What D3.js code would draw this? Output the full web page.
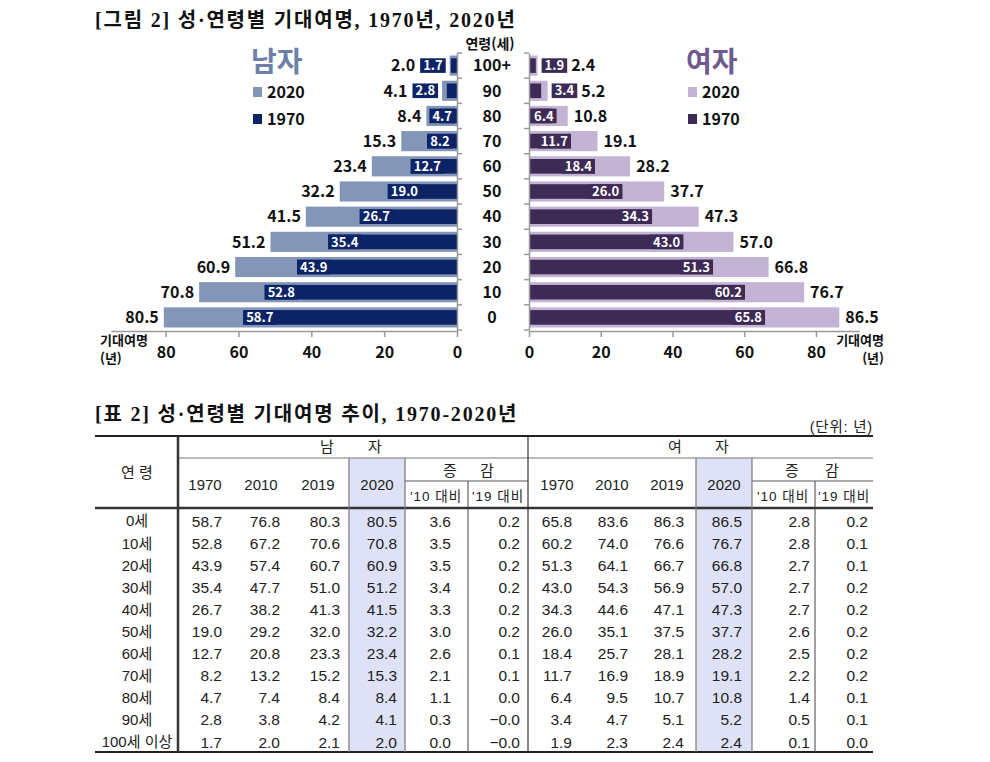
<!DOCTYPE html>
<html lang="ko">
<head>
<meta charset="utf-8">
<script src="https://cdn.jsdelivr.net/npm/d3@7/dist/d3.min.js"></script>
<style>
  html, body { margin: 0; padding: 0; background: #ffffff; }
  svg { display: block; }
  .kfont { font-family: "Noto Sans CJK KR", "Noto Sans", sans-serif; }
  .tfont { font-family: "Liberation Serif", "Noto Sans CJK KR", serif; font-weight: 700; }
  .tab { font-family: "Liberation Sans", "Noto Sans CJK KR", sans-serif; fill: #222; }
</style>
</head>
<body>
<svg id="chart" width="990" height="762"></svg>
<script>
// 성·연령별 기대여명: 위는 막대 그림, 아래는 표
const ages = ["0", "10", "20", "30", "40", "50", "60", "70", "80", "90", "100+"];
const ageRows = ["0세", "10세", "20세", "30세", "40세", "50세", "60세", "70세", "80세", "90세", "100세 이상"];

const men1970 = [58.7, 52.8, 43.9, 35.4, 26.7, 19.0, 12.7, 8.2, 4.7, 2.8, 1.7];
const men2010 = [76.8, 67.2, 57.4, 47.7, 38.2, 29.2, 20.8, 13.2, 7.4, 3.8, 2.0];
const men2019 = [80.3, 70.6, 60.7, 51.0, 41.3, 32.0, 23.3, 15.2, 8.4, 4.2, 2.1];
const men2020 = [80.5, 70.8, 60.9, 51.2, 41.5, 32.2, 23.4, 15.3, 8.4, 4.1, 2.0];
const menVs10 = [3.6, 3.5, 3.5, 3.4, 3.3, 3.0, 2.6, 2.1, 1.1, 0.3, 0.0];
const menVs19 = [0.2, 0.2, 0.2, 0.2, 0.2, 0.2, 0.1, 0.1, 0.0, -0.0, -0.0];

const women1970 = [65.8, 60.2, 51.3, 43.0, 34.3, 26.0, 18.4, 11.7, 6.4, 3.4, 1.9];
const women2010 = [83.6, 74.0, 64.1, 54.3, 44.6, 35.1, 25.7, 16.9, 9.5, 4.7, 2.3];
const women2019 = [86.3, 76.6, 66.7, 56.9, 47.1, 37.5, 28.1, 18.9, 10.7, 5.1, 2.4];
const women2020 = [86.5, 76.7, 66.8, 57.0, 47.3, 37.7, 28.2, 19.1, 10.8, 5.2, 2.4];
const womenVs10 = [2.8, 2.8, 2.7, 2.7, 2.7, 2.6, 2.5, 2.2, 1.4, 0.5, 0.1];
const womenVs19 = [0.2, 0.1, 0.1, 0.2, 0.2, 0.2, 0.2, 0.2, 0.1, 0.1, 0.0];

const xTicks = [0, 20, 40, 60, 80];
const yearHeads = ["1970", "2010", "2019", "2020"];

const COLORS = {
  men2020: "#8496b8",
  men1970: "#0c2466",
  women2020: "#c3b3d5",
  women1970: "#3d2a55",
  menTitle: "#6c80a8",
  womenTitle: "#6e5a8e",
  axis: "#9a9a9a",
  shade: "#dfe1f6",
};

const svg = d3.select("#chart");
svg.append("rect").attr("width", 990).attr("height", 762).attr("fill", "#fff");

// ---------- 그림 ----------
svg.append("text").attr("class", "tfont").attr("x", 95).attr("y", 27)
  .attr("font-size", 20).attr("letter-spacing", 1.8).attr("fill", "#111")
  .text("[그림 2] 성·연령별 기대여명, 1970년, 2020년");

const y = d3.scaleBand().domain(ages.slice().reverse()).range([53, 330]);
const xM = d3.scaleLinear().domain([0, 95]).range([457, 111]);
const xW = d3.scaleLinear().domain([0, 92]).range([529, 859]);
const h20 = y.bandwidth() * 0.8;
const h70 = y.bandwidth() * 0.58;
const cy = (a) => y(a) + y.bandwidth() / 2;

const rows = ages.map((a, i) => ({
  age: a, m70: men1970[i], m20: men2020[i], w70: women1970[i], w20: women2020[i],
}));

function drawSide(x, key70, key20, c70, c20, dir) {
  const g = svg.append("g").attr("class", "kfont");
  const x0 = x(0);
  g.selectAll("rect.b20").data(rows).join("rect").attr("class", "b20")
    .attr("x", (d) => Math.min(x0, x(d[key20])))
    .attr("width", (d) => Math.abs(x(d[key20]) - x0))
    .attr("y", (d) => cy(d.age) - h20 / 2).attr("height", h20)
    .attr("fill", c20);
  g.selectAll("rect.b70").data(rows).join("rect").attr("class", "b70")
    .attr("x", (d) => Math.min(x0, x(d[key70])))
    .attr("width", (d) => Math.abs(x(d[key70]) - x0))
    .attr("y", (d) => cy(d.age) - h70 / 2).attr("height", h70)
    .attr("fill", c70);

  rows.forEach((d) => {
    const b20 = x(d[key20]);
    const b70 = x(d[key70]);
    const box = g.append("rect").attr("fill", c70)
      .attr("y", cy(d.age) - h70 / 2).attr("height", h70);
    const t70 = g.append("text").attr("y", cy(d.age)).attr("dy", "0.36em")
      .attr("font-size", 13).attr("font-weight", 700).attr("fill", "#fff")
      .attr("text-anchor", "middle").text(d[key70].toFixed(1));
    const boxW = t70.node().getComputedTextLength() + 6;
    const len20 = Math.abs(b20 - x0);
    let bx0, lx;
    if (dir < 0) {
      if (len20 >= boxW + 4) {
        bx0 = Math.min(b70, x0 - 2 - boxW);
        lx = b20 - 5;
      } else {
        bx0 = b20 - 4 - boxW;
        lx = bx0 - 5;
      }
    } else {
      if (len20 >= boxW + 4) {
        bx0 = Math.max(b70, x0 + 2 + boxW) - boxW;
        lx = b20 + 6;
      } else {
        bx0 = b20 + 4;
        lx = bx0 + boxW + 4;
      }
    }
    box.attr("x", bx0).attr("width", boxW);
    t70.attr("x", bx0 + boxW / 2);
    g.append("text").attr("x", lx).attr("y", cy(d.age)).attr("dy", "0.36em")
      .attr("font-size", 16).attr("font-weight", 700).attr("fill", "#111")
      .attr("text-anchor", dir < 0 ? "end" : "start")
      .text(d[key20].toFixed(1));
  });

  // 축
  const ax = svg.append("g").attr("transform", "translate(0,331)")
    .call(d3.axisBottom(x).tickValues(xTicks).tickSize(6).tickSizeOuter(0).tickPadding(10));
  ax.select(".domain").attr("stroke", COLORS.axis).attr("stroke-width", 1.5);
  ax.selectAll(".tick line").attr("stroke", COLORS.axis).attr("stroke-width", 1.5);
  ax.selectAll(".tick text").attr("class", "kfont").attr("font-size", 16)
    .attr("font-weight", 700).attr("fill", "#111");

  const yAx = svg.append("g").attr("transform", `translate(${x0},0)`)
    .call((dir < 0 ? d3.axisRight(y) : d3.axisLeft(y)).tickSize(0).tickFormat(""));
  yAx.select(".domain").attr("stroke", COLORS.axis).attr("stroke-width", 1.5);
  yAx.selectAll(".tick").remove();
  const bounds = y.domain().map((a) => y(a)).concat([y.range()[1]]);
  yAx.selectAll("line.bt").data(bounds).join("line").attr("class", "bt")
    .attr("x1", 0).attr("x2", dir < 0 ? 5 : -5)
    .attr("y1", (v) => v).attr("y2", (v) => v)
    .attr("stroke", COLORS.axis).attr("stroke-width", 1.5);
}

drawSide(xM, "m70", "m20", COLORS.men1970, COLORS.men2020, -1);
drawSide(xW, "w70", "w20", COLORS.women1970, COLORS.women2020, 1);

// 연령 라벨
const mid = svg.append("g").attr("class", "kfont");
mid.append("text").attr("x", 490).attr("y", 49).attr("text-anchor", "middle")
  .attr("font-size", 14).attr("font-weight", 700).attr("fill", "#111").text("연령(세)");
mid.selectAll("text.age").data(ages).join("text").attr("class", "age")
  .attr("x", 492).attr("y", (a) => cy(a)).attr("dy", "0.36em")
  .attr("text-anchor", "middle").attr("font-size", 16).attr("font-weight", 700)
  .attr("fill", "#111").text((a) => a);

// 축 제목
function axisTitle(x, anchor) {
  const t = svg.append("g").attr("class", "kfont").attr("font-size", 13)
    .attr("font-weight", 700).attr("fill", "#111").attr("text-anchor", anchor);
  t.append("text").attr("x", x).attr("y", 345).text("기대여명");
  t.append("text").attr("x", x).attr("y", 363).text("(년)");
}
axisTitle(100, "start");
axisTitle(884, "end");

// 범례
function legend(x, title, tcolor, c20, c70) {
  const g = svg.append("g").attr("class", "kfont");
  g.append("text").attr("x", x - 2).attr("y", 72).attr("font-size", 28)
    .attr("font-weight", 700).attr("fill", tcolor).text(title);
  [["2020", c20, 92], ["1970", c70, 119]].forEach(([lab, c, yy]) => {
    g.append("rect").attr("x", x).attr("y", yy - 5).attr("width", 9).attr("height", 10).attr("fill", c);
    g.append("text").attr("x", x + 14).attr("y", yy).attr("dy", "0.36em")
      .attr("font-size", 16).attr("font-weight", 700).attr("fill", "#111").text(lab);
  });
}
legend(253, "남자", COLORS.menTitle, COLORS.men2020, COLORS.men1970);
legend(688, "여자", COLORS.womenTitle, COLORS.women2020, COLORS.women1970);

// ---------- 표 ----------
svg.append("text").attr("class", "tfont").attr("x", 95).attr("y", 421)
  .attr("font-size", 20).attr("letter-spacing", 1.8).attr("fill", "#111")
  .text("[표 2] 성·연령별 기대여명 추이, 1970-2020년");
svg.append("text").attr("class", "tab").attr("x", 873).attr("y", 432)
  .attr("text-anchor", "end").attr("font-size", 14.5).attr("letter-spacing", 0.8).text("(단위: 년)");

const T = { x0: 95, x1: 873, top: 436, h1: 458, h2: 481, hb: 508, bot: 752 };
const rowY = d3.scalePoint().domain(ageRows).range([521, 742]);
const fmt = (v) => (v < 0 || Object.is(v, -0) ? "−" + Math.abs(v).toFixed(1) : v.toFixed(1));

const tab = svg.append("g").attr("class", "tab");
// 2020 열 음영
[[349, 405], [696, 752]].forEach(([a, b]) => {
  tab.append("rect").attr("x", a).attr("y", T.h1).attr("width", b - a)
    .attr("height", T.bot - T.h1).attr("fill", COLORS.shade);
});

const hline = (x1, x2, yy, w, c) => tab.append("line").attr("x1", x1).attr("x2", x2)
  .attr("y1", yy).attr("y2", yy).attr("stroke", c).attr("stroke-width", w);
const vline = (xx, y1, y2, w, c) => tab.append("line").attr("x1", xx).attr("x2", xx)
  .attr("y1", y1).attr("y2", y2).attr("stroke", c).attr("stroke-width", w);

hline(T.x0, T.x1, T.top, 2, "#222");
hline(178, T.x1, T.h1, 1.2, "#777");
hline(405, 528, T.h2, 1, "#555");
hline(752, T.x1, T.h2, 1, "#555");
hline(T.x0, T.x1, T.hb, 2.5, "#333");
hline(T.x0, T.x1, T.bot, 2, "#222");
vline(178, T.top, T.bot, 2.5, "#333");
vline(528, T.top, T.bot, 1.2, "#333");
[349, 405, 696, 752].forEach((xx) => vline(xx, T.h1, T.bot, 1.2, "#777"));
[468, 815].forEach((xx) => vline(xx, T.h2, T.bot, 1, "#444"));

// 머리글
const head = (x, yy, s, size, ls) => tab.append("text").attr("x", x).attr("y", yy)
  .attr("dy", "0.36em").attr("text-anchor", "middle").attr("font-size", size || 15)
  .attr("letter-spacing", ls || 0).text(s);
head(137, 473, "연  령");
head(327, 447, "남"); head(375, 447, "자");
head(675, 447, "여"); head(722, 447, "자");
head(450, 471, "증"); head(487, 471, "감");
head(792, 471, "증"); head(832, 471, "감");
head(436, 496, "'10 대비", 13.5, 1); head(498, 496, "'19 대비", 13.5, 1);
head(783, 496, "'10 대비", 13.5, 1); head(844, 496, "'19 대비", 13.5, 1);
[205, 261, 318, 377].forEach((xx, i) => head(xx, 485, yearHeads[i]));
[557, 612, 667, 724].forEach((xx, i) => head(xx, 485, yearHeads[i]));

// 본문
const columns = [
  { vals: men1970, right: 222 }, { vals: men2010, right: 280 },
  { vals: men2019, right: 340 }, { vals: men2020, right: 397 },
  { vals: menVs10, right: 451 }, { vals: menVs19, right: 520 },
  { vals: women1970, right: 572 }, { vals: women2010, right: 628 },
  { vals: women2019, right: 684 }, { vals: women2020, right: 742 },
  { vals: womenVs10, right: 810 }, { vals: womenVs19, right: 868 },
];
tab.selectAll("text.age").data(ageRows).join("text").attr("class", "age")
  .attr("x", 137).attr("y", (a) => rowY(a)).attr("dy", "0.36em")
  .attr("text-anchor", "middle").attr("font-size", 15).text((a) => a);
columns.forEach((col) => {
  tab.append("g").selectAll("text").data(col.vals).join("text")
    .attr("x", col.right).attr("y", (v, i) => rowY(ageRows[i])).attr("dy", "0.36em")
    .attr("text-anchor", "end").attr("font-size", 15.5).text(fmt);
});
</script>
</body>
</html>
